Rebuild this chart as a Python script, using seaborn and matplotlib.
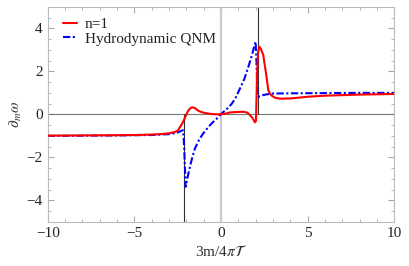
import matplotlib
matplotlib.use("Agg")
import matplotlib.pyplot as plt
from matplotlib.ticker import MultipleLocator
import seaborn as sns
import pandas as pd

# n=1 mode
red_x = [-10, -8, -6, -5, -4, -3.5, -3, -2.7, -2.5, -2.37, -2.25, -2.12, -2.0, -1.89, -1.78, -1.66,
         -1.5, -1.31, -1.1, -0.83, -0.5, -0.06, 0.3, 0.52, 0.9, 1.29, 1.5, 1.67, 1.8, 1.9, 1.96,
         2.02, 2.08, 2.14, 2.21, 2.3, 2.44, 2.6, 2.73, 2.82, 2.92, 3.1, 3.4, 4.0, 5, 6, 8, 10]
red_y = [-0.99, -0.98, -0.97, -0.96, -0.94, -0.92, -0.88, -0.83, -0.76, -0.6, -0.45, -0.23, 0.0, 0.17, 0.28, 0.33,
         0.29, 0.17, 0.1, 0.05, 0.01, 0.0, 0.04, 0.09, 0.11, 0.12, 0.09, -0.03, -0.15, -0.28, -0.37,
         -0.3, 1.8, 2.9, 3.15, 3.05, 2.76, 1.9, 1.13, 0.98, 0.88, 0.78, 0.73, 0.74, 0.82, 0.87, 0.92, 0.95]

# hydrodynamic QNM
blue_x = [-10, -8, -6, -5, -4, -3, -2.7, -2.5, -2.27, -2.18, -2.12, -2.04, -1.95, -1.79, -1.65, -1.5,
          -1.25, -1.02, -0.8, -0.54, -0.25, -0.02, 0.3, 0.62, 0.85, 1.1, 1.35, 1.58, 1.8, 1.93, 2.0,
          2.05, 2.1, 2.15, 2.3, 2.44, 2.7, 3.0, 4.0, 6, 8, 10]
blue_y = [-1.0, -0.99, -0.98, -0.97, -0.96, -0.92, -0.88, -0.84, -0.76, -0.74, -1.6, -3.37, -3.0, -2.44, -1.98, -1.58,
          -1.16, -0.88, -0.66, -0.42, -0.2, 0.0, 0.22, 0.49, 0.78, 1.21, 1.65, 2.21, 2.8, 3.2, 3.38,
          2.4, 1.0, 0.82, 0.86, 0.9, 0.94, 0.97, 0.98, 0.99, 1.0, 1.0]

df_red = pd.DataFrame({"x": red_x, "y": red_y})
df_blue = pd.DataFrame({"x": blue_x, "y": blue_y})

sns.set_style("ticks")
plt.rcParams["font.family"] = ["Liberation Serif", "DejaVu Serif"]
plt.rcParams["mathtext.fontset"] = "stix"

fig = plt.figure(figsize=(4.09, 2.66), dpi=100)
ax = fig.add_axes([0.1166, 0.166, 0.8474, 0.808])

ax.axvline(0, color="#cccccc", lw=1.6, zorder=1)
ax.axhline(0, color="#777777", lw=0.8, zorder=1)
ax.plot([-2.12, -2.12], [-5, 0], color="#333333", lw=0.8, zorder=1)
ax.plot([2.12, 2.12], [0, 5], color="#333333", lw=0.8, zorder=1)

sns.lineplot(data=df_red, x="x", y="y", ax=ax, color="red", lw=1.5, sort=False,
             estimator=None, label="n=1", zorder=3)
sns.lineplot(data=df_blue, x="x", y="y", ax=ax, color="blue", lw=1.5, sort=False,
             estimator=None, label="Hydrodynamic QNM", zorder=2)
ax.lines[-1].set_dashes([3.5, 1.2, 1.0, 1.2])

ax.set_xlim(-10, 10)
ax.set_ylim(-5, 5)
ax.xaxis.set_major_locator(MultipleLocator(5))
ax.xaxis.set_minor_locator(MultipleLocator(1))
ax.yaxis.set_major_locator(MultipleLocator(2))
ax.yaxis.set_minor_locator(MultipleLocator(0.5))

for s in ax.spines.values():
    s.set_color("#bbbbbb")
    s.set_linewidth(0.8)
ax.tick_params(which="both", direction="in", top=True, right=True, color="#aaaaaa",
               labelsize=11, labelcolor="#222222")
ax.tick_params(which="major", length=4, width=0.8)
ax.tick_params(which="minor", length=2, width=0.6)

ax.set_xlabel(r"3m/4$\pi\mathcal{T}$", fontsize=11, color="#333333", labelpad=3)
ax.set_ylabel(r"$\partial_m\omega$", fontsize=11, color="#333333", labelpad=2)

leg = ax.legend(loc="upper left", frameon=False, fontsize=11, handlelength=0.95,
                borderaxespad=0.0, borderpad=0.0, labelspacing=0.05, handletextpad=0.5,
                bbox_to_anchor=(0.044, 0.95))
for t in leg.get_texts():
    t.set_color("#222222")

fig.savefig("out.png", dpi=100)
